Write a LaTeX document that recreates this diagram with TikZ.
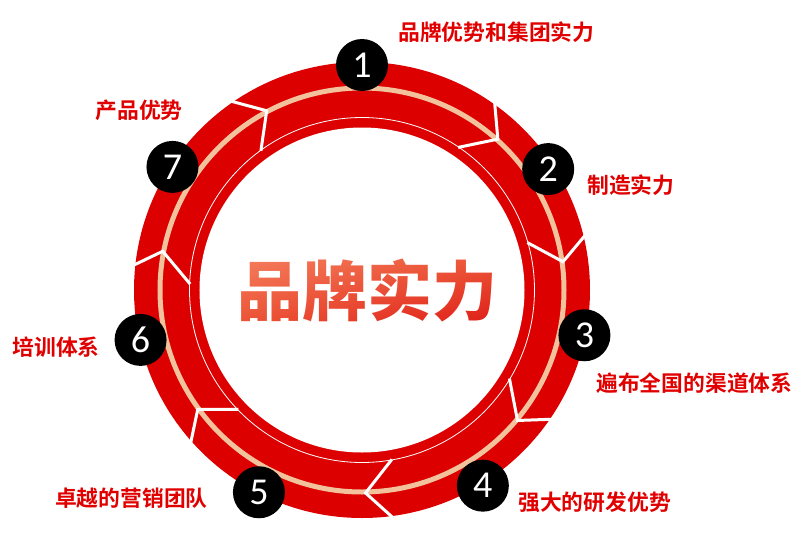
\documentclass[tikz,border=0pt]{standalone}
\usepackage{fontspec}
\usetikzlibrary{fadings,shadings}
\newfontfamily\cjk{Noto Sans CJK SC Bold}
\newfontfamily\cjkheavy{Noto Sans CJK SC Black}
\newfontfamily\numfont{Carlito}
\definecolor{ringred}{HTML}{DD0000}
\definecolor{ringpeach}{HTML}{F2C29C}
\definecolor{lblred}{HTML}{E10000}
\definecolor{titlelight}{HTML}{F5805F}
\definecolor{titlemid}{HTML}{EC5536}
\definecolor{titledark}{HTML}{DE1A15}

\begin{tikzfadingfrompicture}[name=titlefade]
  \node[text=transparent!0, inner sep=0, font=\cjkheavy\fontsize{65}{70}\selectfont] {品牌实力};
\end{tikzfadingfrompicture}

\begin{document}
\begin{tikzpicture}[
  x=1pt, y=1pt,
  chev/.style={white, line width=3pt},
  num/.style={circle, fill=black, inner sep=0, minimum size=52pt, text=white, font=\numfont\fontsize{38}{40}\selectfont},
  lbl/.style={inner sep=0, text=lblred, font=\cjk\fontsize{21.8}{24}\selectfont}
]
  \useasboundingbox (-362,-260) rectangle (438,290);

  % ring
  \fill[ringred] (0,0) circle (228);
  \draw[ringpeach, line width=5pt] (0,0) circle (202);
  \draw[white, line width=0.8pt] (0,0) circle (172.5);
  \fill[white] (0,0) circle (162.5);

  % chevrons between the steps
  \draw[chev] (125:231) -- (118:203) -- (126:172);
  \draw[chev] (55:231) -- (48:203) -- (56:172);
  \draw[chev] (14:231) -- (8:203) -- (16:172);
  \draw[chev] (-34:231) -- (-40:203) -- (-31:172);
  \draw[chev] (-82:231) -- (-89:203) -- (-80:172);
  \draw[chev] (222:231) -- (216:203) -- (224:172);
  \draw[chev] (174:231) -- (169:203) -- (178:172);

  % title
  \coordinate (title) at (6,0);
  \shade[path fading=titlefade, fit fading=false, fading transform={xshift=6pt},
    upper left=titlelight, upper right=titlemid, lower left=titlemid, lower right=titledark]
    (-134,-34) rectangle (146,34);

  % steps
  \node[num] (c1) at (90:225) {1};
  \node[num] (c2) at (33:222) {2};
  \node[num] (c3) at (-11.5:227) {3};
  \node[num] (c4) at (-58.3:230) {4};
  \node[num] (c5) at (243:227) {5};
  \node[num] (c6) at (192.7:227) {6};
  \node[num] (c7) at (147:226) {7};

  \node[lbl, anchor=west] (l1) at (36,258) {品牌优势和集团实力};
  \node[lbl, anchor=west] (l2) at (225,105) {制造实力};
  \node[lbl, anchor=west] (l3) at (234,-93) {遍布全国的渠道体系};
  \node[lbl, anchor=west] (l4) at (156,-212) {强大的研发优势};
  \node[lbl, anchor=east] (l5) at (-154,-208) {卓越的营销团队};
  \node[lbl, anchor=east] (l6) at (-262,-57) {培训体系};
  \node[lbl, anchor=east] (l7) at (-179,180) {产品优势};
\end{tikzpicture}
\end{document}
